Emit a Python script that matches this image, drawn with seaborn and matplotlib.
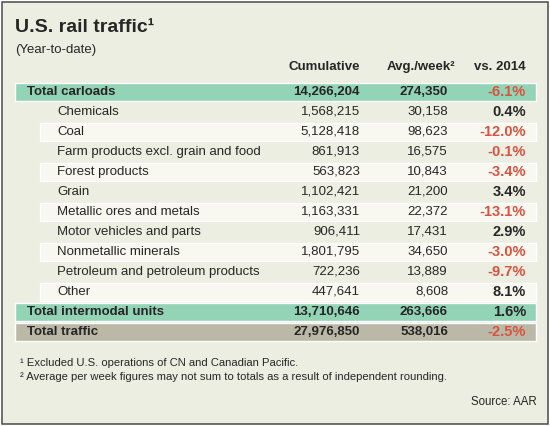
import matplotlib
matplotlib.use('Agg')
import matplotlib.pyplot as plt
import matplotlib.patches as mpatches
import seaborn as sns

# Table data
commodities = ['Chemicals', 'Coal', 'Farm products excl. grain and food',
               'Forest products', 'Grain', 'Metallic ores and metals',
               'Motor vehicles and parts', 'Nonmetallic minerals',
               'Petroleum and petroleum products', 'Other']
cumulative = [1568215, 5128418, 861913, 563823, 1102421, 1163331,
              906411, 1801795, 722236, 447641]
avg_week = [30158, 98623, 16575, 10843, 21200, 22372,
            17431, 34650, 13889, 8608]
vs_2014 = [0.4, -12.0, -0.1, -3.4, 3.4, -13.1, 2.9, -3.0, -9.7, 8.1]

total_labels = ['Total carloads', 'Total intermodal units', 'Total traffic']
total_cumulative = [14266204, 13710646, 27976850]
total_avg_week = [274350, 263666, 538016]
total_vs_2014 = [-6.1, 1.6, -2.5]

headers = ['Cumulative', 'Avg./week\u00b2', 'vs. 2014']
title = 'U.S. rail traffic\u00b9'
subtitle = '(Year-to-date)'
footnotes = ['\u00b9 Excluded U.S. operations of CN and Canadian Pacific.',
             '\u00b2 Average per week figures may not sum to totals as a result of independent rounding.']
source = 'Source: AAR'

sns.set_theme(style='white')
plt.rcParams['font.family'] = ['Liberation Sans', 'DejaVu Sans']

BG = '#eceee1'
GREEN = '#93d3b6'
GRAY = '#bbb8a8'
STRIPE = '#f8f8f1'
RED = '#d9533f'
INK = '#262626'

fig = plt.figure(figsize=(5.5, 4.26), dpi=100, facecolor='white')
ax = fig.add_axes([0, 0, 1, 1])
ax.set_xlim(0, 550)
ax.set_ylim(426, 0)
ax.axis('off')

ax.add_patch(mpatches.Rectangle((1.5, 1.5), 546.5, 422.5, facecolor=BG,
                                edgecolor='#4a4a4a', lw=1.1, zorder=0))

ax.text(15, 27, title, fontsize=14, fontweight='bold', color=INK,
        va='center', ha='left')
ax.text(15, 50, subtitle, fontsize=9.5, color=INK, va='center', ha='left')

col_x = [360, 448, 526]
header_x = [360, 455, 526]
for hx, h in zip(header_x, headers):
    ax.text(hx, 67, h, fontsize=9.5, fontweight='bold', color=INK,
            va='center', ha='right')

row_h = 20
y0 = 92


def pct_text(v):
    return f'{v:.1f}%'


def draw_row(y, label, cum, avg, pct, bold, lx):
    w = 'bold' if bold else 'normal'
    ax.text(lx, y, label, fontsize=9.5, fontweight=w, color=INK,
            va='center', ha='left')
    ax.text(col_x[0], y, f'{cum:,}', fontsize=9.5, fontweight=w,
            color=INK, va='center', ha='right')
    ax.text(col_x[1], y, f'{avg:,}', fontsize=9.5, fontweight=w,
            color=INK, va='center', ha='right')
    ax.text(col_x[2], y, pct_text(pct), fontsize=10.5, fontweight='bold',
            color=RED if pct < 0 else INK, va='center', ha='right')


ys = [y0 + row_h * i for i in range(len(commodities) + 3)]
band_colors = [GREEN, GREEN, GRAY]
total_rows = [ys[0], ys[-2], ys[-1]]
ax.barh(total_rows, 521, left=15, height=18.5, color=band_colors, zorder=1)

item_ys = ys[1:-2]
stripe_ys = [y for i, y in enumerate(item_ys) if i % 2 == 1]
ax.barh(stripe_ys, 496, left=40, height=18, color=STRIPE, zorder=1)

draw_row(total_rows[0], total_labels[0], total_cumulative[0],
         total_avg_week[0], total_vs_2014[0], True, 27)
for y, lab, c, a, p in zip(item_ys, commodities, cumulative, avg_week, vs_2014):
    draw_row(y, lab, c, a, p, False, 57)
for i in (1, 2):
    draw_row(total_rows[i], total_labels[i], total_cumulative[i],
             total_avg_week[i], total_vs_2014[i], True, 27)

ax.text(20, 363, footnotes[0], fontsize=8.1, color=INK, va='center', ha='left')
ax.text(20, 377, footnotes[1], fontsize=8.1, color=INK, va='center', ha='left')
ax.text(537, 402, source, fontsize=8.3, color=INK, va='center', ha='right')

fig.savefig('out.png', dpi=100, facecolor='white')
